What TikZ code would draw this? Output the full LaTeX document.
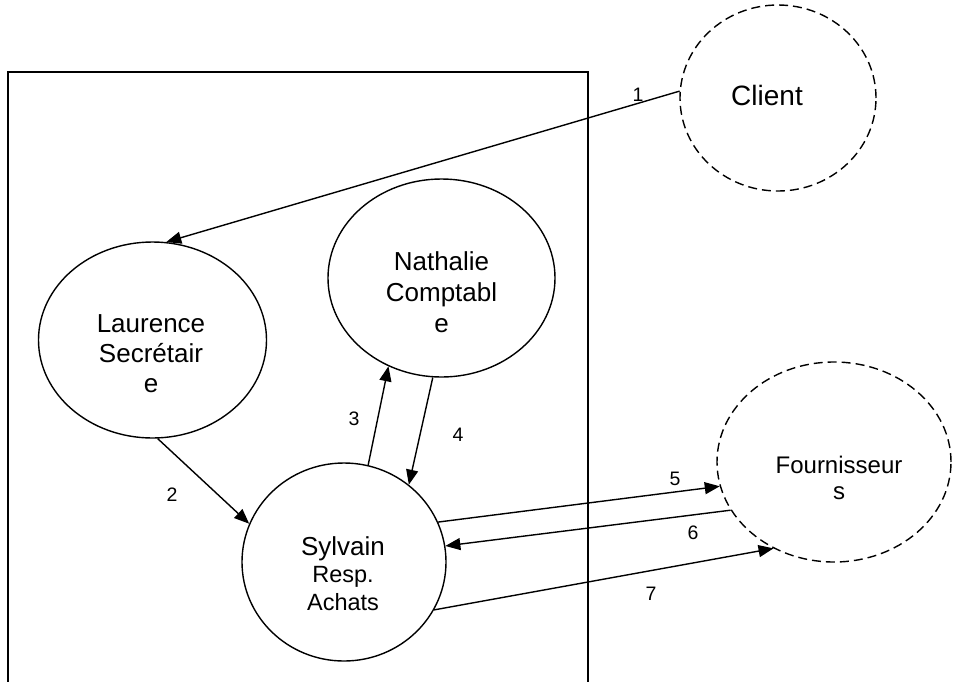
\documentclass[tikz,border=0pt]{standalone}
\usepackage{fontspec}
\setmainfont{Liberation Sans}
\usetikzlibrary{arrows.meta}
\usetikzlibrary{shapes.geometric}

\begin{document}
\begin{tikzpicture}[x=1pt,y=-1pt,
        actor/.style={ellipse, draw, line width=1.4pt, inner sep=0pt},
        extern/.style={actor, dash pattern=on 9pt off 5pt},
        flow/.style={-{Triangle[length=15pt,width=12pt]}, line width=1.4pt},
        who/.style={inner sep=0pt, align=center, font=\fontsize{26}{30}\selectfont},
        msgnum/.style={inner sep=0pt, font=\fontsize{19.5}{22}\selectfont}]
    \useasboundingbox (0,0) rectangle (953,681);

    % domaine de l'entreprise
    \draw[line width=1.4pt] (8,695) |- (588,72) -- (588,695);

    % acteurs
    \node[extern, minimum width=196pt, minimum height=186pt] (client) at (778,98) {};
    \node[who, font=\fontsize{28}{32}\selectfont] (client-txt) at (767,95) {Client};
    \node[actor, minimum width=228pt, minimum height=196pt] (laurence) at (152.5,340) {};
    \node[who] (laurence-txt) at (151,354) {Laurence\\Secrétair\\e};
    \node[actor, minimum width=227pt, minimum height=198pt] (nathalie) at (441.5,278) {};
    \node[who, font=\fontsize{26}{31}\selectfont] (nathalie-txt) at (441.5,292.5) {Nathalie\\Comptabl\\e};
    \node[actor, minimum width=204pt, minimum height=198pt] (sylvain) at (344,562) {};
    \node[who, font=\fontsize{23.5}{27.5}\selectfont] (sylvain-txt) at (343,573.4)
        {{\fontsize{26}{30}\selectfont Sylvain}\\Resp.\\Achats};
    \node[extern, minimum width=234pt, minimum height=200pt] (fournisseurs) at (834,462) {};
    \node[who, font=\fontsize{24}{26}\selectfont] (fournisseurs-txt) at (839,477.5) {Fournisseur\\s};

    % flux
    \draw[flow] (client.176) -- (laurence.82);
    \draw[flow] (laurence.273) -- (sylvain.158);
    \draw[flow] (sylvain.76) -- (nathalie.239);
    \draw[flow] (nathalie.265) -- (sylvain.50);
    \draw[flow] (sylvain.23) -- (fournisseurs.192);
    \draw[flow] (fournisseurs.205) -- (sylvain.9);
    \draw[flow] (sylvain.332) -- (fournisseurs.235);

    % numeros des flux
    \node[msgnum] (n1) at (638,95) {1};
    \node[msgnum] (n2) at (172,495) {2};
    \node[msgnum] (n3) at (354,419) {3};
    \node[msgnum] (n4) at (458,435) {4};
    \node[msgnum] (n5) at (675,479) {5};
    \node[msgnum] (n6) at (693,533) {6};
    \node[msgnum] (n7) at (651,594) {7};
\end{tikzpicture}
\end{document}
